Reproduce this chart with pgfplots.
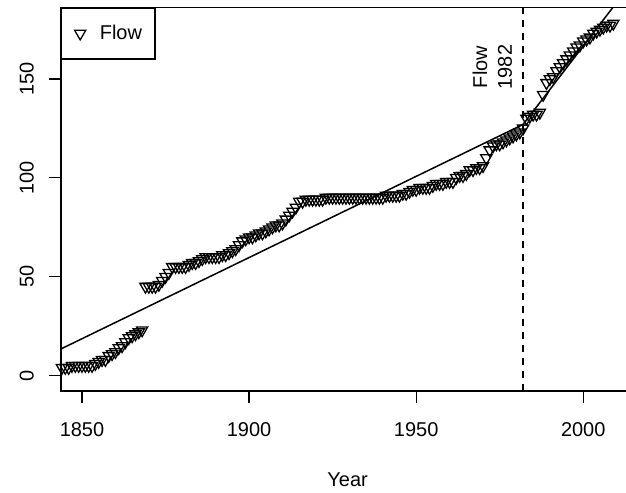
\documentclass[border=0pt]{standalone}
\usepackage{fontspec}
\setmainfont{Liberation Sans}
\usepackage{pgfplots}
\pgfplotsset{compat=1.18}
\usepackage{pgfplotstable}

\pgfplotsset{onemark legend/.style={legend image code/.code={\draw[##1] plot coordinates {(0pt,0pt)};}}}

\pgfplotstableread{
year v
1844 4
1845 4
1846 4
1847 5
1848 5
1849 5
1850 5
1851 5
1852 5
1853 5
1854 6
1855 7
1856 8
1857 8
1858 10
1859 11
1860 12
1861 14
1862 15
1863 17
1864 19
1865 20
1866 21
1867 22
1868 23
1869 45
1870 45
1871 45
1872 45
1873 46
1874 48
1875 50
1876 52
1877 55
1878 55
1879 55
1880 55
1881 55
1882 56
1883 57
1884 57
1885 58
1886 59
1887 60
1888 60
1889 60
1890 60
1891 60
1892 61
1893 61
1894 62
1895 63
1896 64
1897 66
1898 68
1899 69
1900 70
1901 70
1902 71
1903 72
1904 72
1905 73
1906 74
1907 75
1908 76
1909 76
1910 77
1911 79
1912 81
1913 83
1914 85
1915 88
1916 88
1917 89
1918 89
1919 89
1920 89
1921 89
1922 89
1923 90
1924 90
1925 90
1926 90
1927 90
1928 90
1929 90
1930 90
1931 90
1932 90
1933 90
1934 90
1935 90
1936 90
1937 90
1938 90
1939 90
1940 90
1941 91
1942 91
1943 91
1944 91
1945 91
1946 92
1947 92
1948 93
1949 94
1950 94
1951 95
1952 95
1953 95
1954 95
1955 96
1956 97
1957 97
1958 97
1959 98
1960 98
1961 98
1962 100
1963 101
1964 101
1965 102
1966 104
1967 104
1968 105
1969 105
1970 106
1971 110
1972 114
1973 116
1974 117
1975 117
1976 118
1977 119
1978 120
1979 121
1980 122
1981 123
1982 125
1983 130
1984 131
1985 132
1986 132
1987 133
1988 142
1989 148
1990 150
1991 151
1992 154
1993 156
1994 158
1995 160
1996 162
1997 164
1998 166
1999 167
2000 169
2001 170
2002 171
2003 173
2004 174
2005 175
2006 176
2007 177
2008 177
2009 178
}\flowdata

\pgfplotstableread{
year v
1843.7 13.5
1982 127
}\segA

\pgfplotstableread{
year v
1982 127
2008.9 186.2
}\segB

\pgfplotstableread{
year v
1982 -7.7
1982 186.2
}\breakline

\newcommand{\lblfont}{\fontsize{20}{25}\selectfont}

\begin{document}
\begin{tikzpicture}
\path (0pt,0pt) rectangle (626pt,493pt);
\begin{axis}[
  at={(61pt,101.7pt)}, anchor=south west,
  scale only axis, width=565pt, height=384pt,
  xmin=1843.7, xmax=2012.6, ymin=-7.7, ymax=186.2,
  clip=false,
  axis line style={draw=none},
  tick style={line width=1.3pt, black},
  tick align=outside, major tick length=12pt,
  xtick={1850,1900,1950,2000}, ytick={0,50,100,150},
  xtick pos=bottom, ytick pos=left,
  /pgf/number format/assume math mode=true,
  /pgf/number format/set thousands separator={},
  ticklabel style={font=\lblfont},
  xticklabel style={anchor=north, inner sep=0pt},
  yticklabel style={rotate=90, anchor=south, inner sep=0pt},
  xticklabel shift=19pt,
  yticklabel shift=15pt,
  xlabel={Year},
  xlabel style={font=\lblfont, at={(axis description cs:0.508,0)}, anchor=base, yshift=-95.7pt, inner sep=0pt},
  legend style={at={(0,1)}, anchor=north west, draw=black, line width=1.3pt,
    font=\lblfont, inner xsep=13pt, inner ysep=17.5pt,
    nodes={inner sep=0pt}, column sep=14pt},
  legend cell align=left,
]
\draw[line width=1.3pt, line cap=rect] (rel axis cs:1,1) -- (rel axis cs:0,1) -- (rel axis cs:0,0) -- (rel axis cs:1,0);
\addplot[only marks, mark=triangle, mark size=6.5pt,
  mark options={rotate=180, line width=1.3pt, draw=black, fill=none},
  onemark legend]
  table[x=year, y=v] {\flowdata};
\addlegendentry{Flow}
\addplot[black, line width=1.5pt, forget plot] table[x=year, y=v] {\segA};
\addplot[black, line width=1.5pt, forget plot] table[x=year, y=v] {\segB};
\addplot[black, line width=1.3pt, dash pattern=on 7pt off 6pt, forget plot] table[x=year, y=v] {\breakline};
\node[rotate=90, align=center, font=\lblfont, inner sep=0pt] at (axis cs:1972.8,156) {Flow\\1982};
\end{axis}
\end{tikzpicture}
\end{document}
